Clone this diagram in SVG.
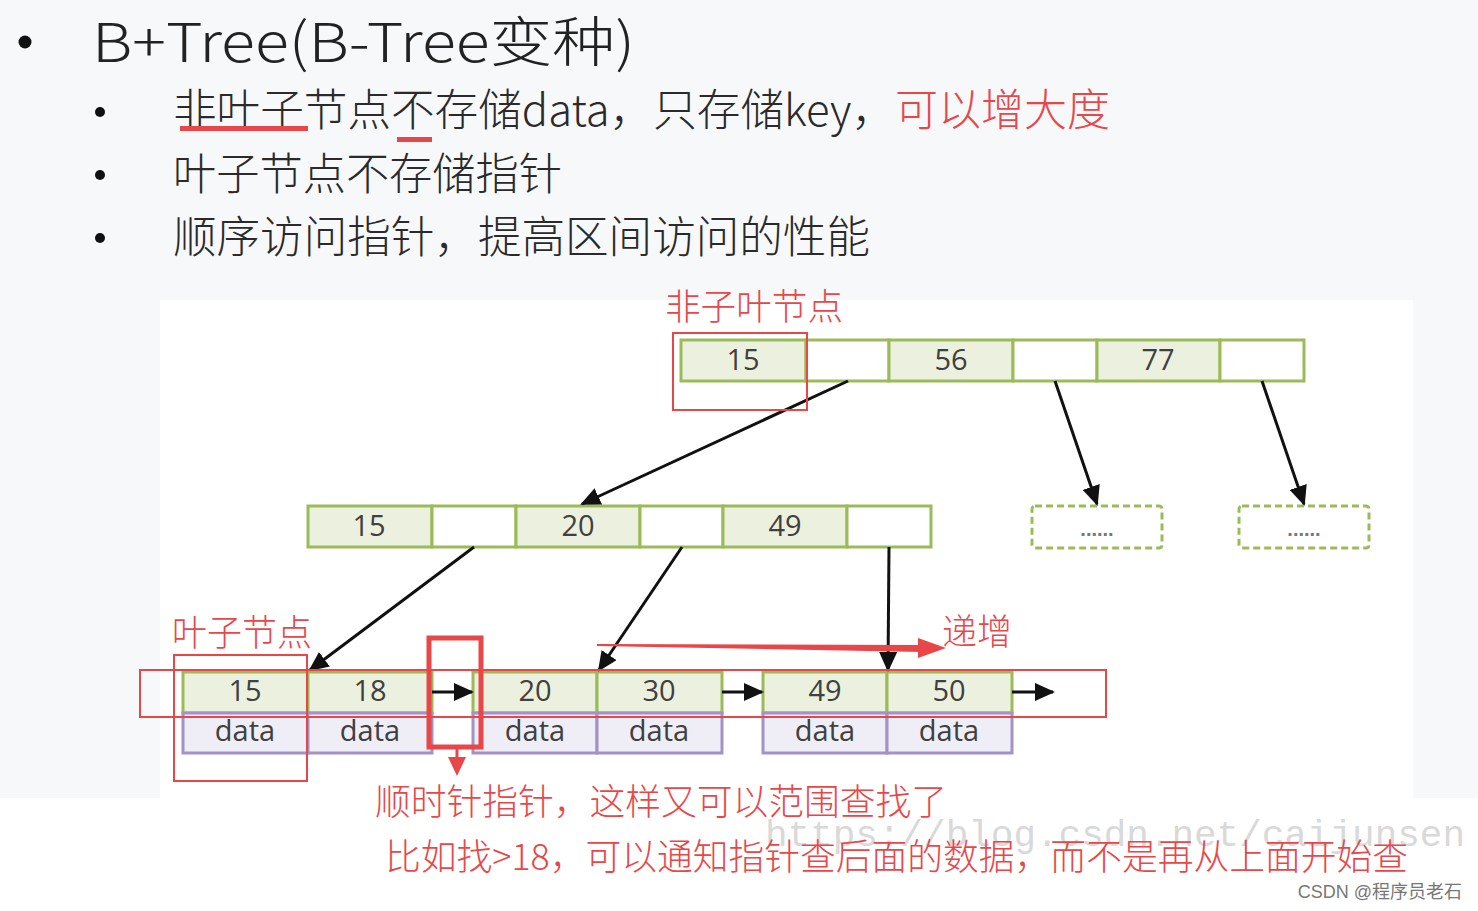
<svg xmlns="http://www.w3.org/2000/svg" width="1478" height="911" viewBox="0 0 1478 911">
<style>
.cjk{font-family:"Noto Sans CJK SC","Noto Sans",sans-serif;font-weight:300;}
.t1{font-size:44px;fill:#2a2a2a;}
.red{fill:#e8474a;}
.k{fill:#ebf1de;stroke:#9bbb59;stroke-width:3;}
.w{fill:#fff;stroke:#9bbb59;stroke-width:3;}
.d{fill:#efedf5;stroke:#a193c4;stroke-width:3;}
.num{font-family:"Open Sans","Noto Sans",sans-serif;font-size:29px;fill:#404040;text-anchor:middle;}
.dash{fill:#fff;stroke:#9bbb59;stroke-width:3;stroke-dasharray:7 4;}
.rb{fill:none;stroke:#e8474a;stroke-width:2;}
.conn{stroke:#111;stroke-width:3;fill:none;marker-end:url(#ah);}
.dots{font-family:"Liberation Sans",sans-serif;font-size:20px;font-weight:bold;fill:#777;text-anchor:middle;}
</style>
<defs>
<marker id="ah" markerUnits="userSpaceOnUse" markerWidth="20" markerHeight="18" refX="18" refY="9" orient="auto">
<path d="M0,0 L20,9 L0,18 z" fill="#111"/>
</marker>
</defs>
<rect x="0" y="0" width="1478" height="911" fill="#fff"/>
<rect x="0" y="0" width="1478" height="798" fill="#f7f8fa"/>
<rect x="160" y="300" width="1253" height="498" fill="#fff"/>

<g id="title">
<circle cx="25" cy="42" r="6.5" fill="#111"/>
<text x="92" y="62" class="cjk" font-size="54" fill="#222" textLength="543" lengthAdjust="spacingAndGlyphs">B+Tree(B-Tree变种)</text>
</g>
<g id="bullets">
<circle cx="100" cy="112" r="5" fill="#111"/>
<text x="173" y="126" class="cjk t1" textLength="722" lengthAdjust="spacingAndGlyphs">非叶子节点不存储data，只存储key，</text>
<text x="895" y="126" class="cjk red" font-size="44" textLength="215" lengthAdjust="spacingAndGlyphs">可以增大度</text>
<rect x="180" y="126" width="128" height="5" fill="#e8474a"/>
<rect x="397" y="137" width="35" height="5" fill="#e8474a"/>
<circle cx="100" cy="175" r="5" fill="#111"/>
<text x="173" y="190" class="cjk t1" textLength="389" lengthAdjust="spacingAndGlyphs">叶子节点不存储指针</text>
<circle cx="100" cy="238" r="5" fill="#111"/>
<text x="173" y="253" class="cjk t1" textLength="697" lengthAdjust="spacingAndGlyphs">顺序访问指针，提高区间访问的性能</text>
</g>

<g id="root-node">
<rect x="681" y="340" width="125" height="41" class="k"/>
<rect x="806" y="340" width="83" height="41" class="w"/>
<rect x="889" y="340" width="124" height="41" class="k"/>
<rect x="1013" y="340" width="84" height="41" class="w"/>
<rect x="1097" y="340" width="123" height="41" class="k"/>
<rect x="1220" y="340" width="84" height="41" class="w"/>
<text x="743" y="370" class="num">15</text>
<text x="951" y="370" class="num">56</text>
<text x="1158" y="370" class="num">77</text>
</g>

<g id="mid-node">
<rect x="308" y="506" width="124" height="41" class="k"/>
<rect x="432" y="506" width="84" height="41" class="w"/>
<rect x="516" y="506" width="124" height="41" class="k"/>
<rect x="640" y="506" width="83" height="41" class="w"/>
<rect x="723" y="506" width="124" height="41" class="k"/>
<rect x="847" y="506" width="84" height="41" class="w"/>
<text x="369" y="536" class="num">15</text>
<text x="578" y="536" class="num">20</text>
<text x="785" y="536" class="num">49</text>
</g>

<g id="placeholder-1">
<rect x="1032" y="506" width="130" height="42" rx="3" class="dash"/>
<text x="1097" y="536" class="dots">......</text>
</g>
<g id="placeholder-2">
<rect x="1239" y="506" width="130" height="42" rx="3" class="dash"/>
<text x="1304" y="536" class="dots">......</text>
</g>

<g id="leaf-1">
<rect x="183" y="672" width="125" height="41" class="k"/>
<rect x="308" y="672" width="124" height="41" class="k"/>
<rect x="183" y="713" width="125" height="40" class="d"/>
<rect x="308" y="713" width="124" height="40" class="d"/>
<text x="245" y="701" class="num">15</text>
<text x="370" y="701" class="num">18</text>
<text x="245" y="741" class="num">data</text>
<text x="370" y="741" class="num">data</text>
</g>
<g id="leaf-2">
<rect x="473" y="672" width="124" height="41" class="k"/>
<rect x="597" y="672" width="125" height="41" class="k"/>
<rect x="473" y="713" width="124" height="40" class="d"/>
<rect x="597" y="713" width="125" height="40" class="d"/>
<text x="535" y="701" class="num">20</text>
<text x="659" y="701" class="num">30</text>
<text x="535" y="741" class="num">data</text>
<text x="659" y="741" class="num">data</text>
</g>
<g id="leaf-3">
<rect x="763" y="672" width="124" height="41" class="k"/>
<rect x="887" y="672" width="125" height="41" class="k"/>
<rect x="763" y="713" width="124" height="40" class="d"/>
<rect x="887" y="713" width="125" height="40" class="d"/>
<text x="825" y="701" class="num">49</text>
<text x="949" y="701" class="num">50</text>
<text x="825" y="741" class="num">data</text>
<text x="949" y="741" class="num">data</text>
</g>

<g id="connectors">
<line x1="848" y1="381" x2="582" y2="504" class="conn"/>
<line x1="1055" y1="381" x2="1097" y2="504" class="conn"/>
<line x1="1262" y1="381" x2="1304" y2="504" class="conn"/>
<line x1="474" y1="547" x2="310" y2="670" class="conn"/>
<line x1="682" y1="547" x2="599" y2="670" class="conn"/>
<line x1="889" y1="547" x2="888" y2="670" class="conn"/>
<line x1="432" y1="692" x2="472" y2="692" class="conn"/>
<line x1="722" y1="692" x2="762" y2="692" class="conn"/>
<line x1="1012" y1="692" x2="1053" y2="692" class="conn"/>
</g>

<g id="annotations">
<text x="665" y="320" class="cjk red" font-size="36" textLength="178" lengthAdjust="spacingAndGlyphs">非子叶节点</text>
<rect x="673" y="333" width="134" height="77" class="rb"/>
<text x="172" y="646" class="cjk red" font-size="36" textLength="140" lengthAdjust="spacingAndGlyphs">叶子节点</text>
<rect x="140" y="670" width="966" height="47" class="rb"/>
<rect x="174" y="655" width="133" height="126" class="rb"/>
<rect x="429" y="638" width="52" height="109" fill="none" stroke="#e8474a" stroke-width="5"/>
<line x1="457" y1="747" x2="457" y2="758" stroke="#e8474a" stroke-width="3"/>
<path d="M448,757 L466,757 L457,776 z" fill="#e8474a"/>
<path d="M597,644 L922,645 L922,652 L597,646 z" fill="#e8474a"/>
<path d="M918,638 L946,648 L918,658 z" fill="#e8474a"/>
<text x="942" y="645" class="cjk red" font-size="36" textLength="70" lengthAdjust="spacingAndGlyphs">递增</text>
<text x="765" y="846" font-family="Liberation Mono,monospace" font-size="37" fill="#c8c8c8" fill-opacity="0.7" textLength="700" lengthAdjust="spacingAndGlyphs">https://blog.csdn.net/caijunsen</text>
<text x="375" y="815" class="cjk red" font-size="36" textLength="572" lengthAdjust="spacingAndGlyphs">顺时针指针，这样又可以范围查找了</text>
<text x="385" y="870" class="cjk red" font-size="36" textLength="1023" lengthAdjust="spacingAndGlyphs">比如找&gt;18，可以通知指针查后面的数据，而不是再从上面开始查</text>
<text x="1462" y="898" font-family="Liberation Sans,Noto Sans CJK SC,sans-serif" font-size="18" fill="#777" text-anchor="end">CSDN @程序员老石</text>
</g>
</svg>
